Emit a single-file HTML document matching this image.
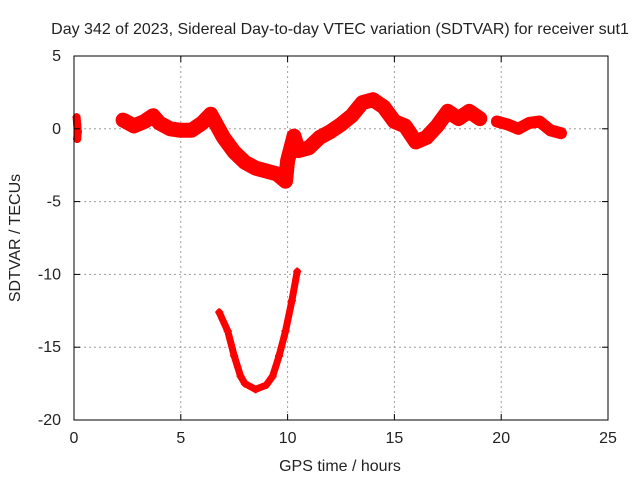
<!DOCTYPE html>
<html><head><meta charset="utf-8"><style>
body{margin:0;background:#fff}
svg text{font-family:"Liberation Sans",Arial,sans-serif;font-size:16px;fill:#222}
</style></head><body>
<svg id="chart" width="640" height="480">
<text x="340" y="34" text-anchor="middle">Day 342 of 2023, Sidereal Day-to-day VTEC variation (SDTVAR) for receiver sut1</text>
<text x="340" y="471" text-anchor="middle">GPS time / hours</text>
<text transform="translate(20,238) rotate(-90)" text-anchor="middle">SDTVAR / TECUs</text>
<g id="grid"></g><g id="marks"></g><g id="axes"></g>
</svg>
<script>
const xTicks=[0,5,10,15,20,25];
const yTicks=[5,0,-5,-10,-15,-20];
const seg1T=[0.12,0.15,0.18,0.15];
const seg1V=[0.8,0.3,-0.2,-0.7];
const seg2T=[2.3,2.8,3.3,3.7,4.0,4.5,5.0,5.5,6.0,6.4,7.0,7.5,8.0,8.5,9.0,9.5,9.9,10.0,10.3,10.5,11.0,11.5,12.0,12.5,13.0,13.5,14.0,14.5,15.0,15.5,16.0,16.5,17.0,17.5,18.0,18.5,19.0];
const seg2V=[0.6,0.2,0.5,0.9,0.4,0.0,-0.1,-0.1,0.4,1.0,-0.6,-1.6,-2.3,-2.7,-2.9,-3.1,-3.6,-2.2,-0.5,-1.5,-1.3,-0.6,-0.2,0.3,0.9,1.8,2.0,1.5,0.5,0.2,-0.9,-0.6,0.2,1.2,0.7,1.2,0.7];
const seg3T=[19.8,20.3,20.8,21.3,21.8,22.3,22.8];
const seg3V=[0.5,0.3,0.0,0.4,0.5,-0.1,-0.3];
const seg4T=[6.8,7.2,7.5,7.8,8.0,8.5,9.0,9.3,9.6,9.9,10.2,10.45];
const seg4V=[-12.6,-13.9,-15.6,-17.0,-17.5,-17.9,-17.6,-17.0,-15.6,-13.9,-11.8,-9.8];
const X0=74,X1=608,Y0=420,Y1=56;
const xs=t=>X0+(t-0)/25*(X1-X0);
const ys=v=>Y0-(v+20)/25*(Y0-Y1);
const NS="http://www.w3.org/2000/svg";
function mk(tag,attrs,parent){const e=document.createElementNS(NS,tag);for(const k in attrs)e.setAttribute(k,attrs[k]);parent.appendChild(e);return e;}
const grid=document.getElementById('grid'),axes=document.getElementById('axes'),marks=document.getElementById('marks');
xTicks.forEach(t=>{
  const x=xs(t);
  if(t>0&&t<25){const l=mk('line',{x1:x,x2:x,y1:Y1,y2:Y0,stroke:'#a0a0a0','stroke-dasharray':'2,3'},grid);
  
  }
  mk('line',{x1:x,x2:x,y1:Y0,y2:Y0-6,stroke:'#000'},axes);
  mk('line',{x1:x,x2:x,y1:Y1,y2:Y1+6,stroke:'#000'},axes);
  const tx=mk('text',{x:x,y:443,'text-anchor':'middle'},axes);tx.textContent=t;
  
  
});
yTicks.forEach(v=>{
  const y=ys(v);
  if(v>-20&&v<5){const l=mk('line',{x1:X0,x2:X1,y1:y,y2:y,stroke:'#a0a0a0','stroke-dasharray':'2,3'},grid);
  
  }
  mk('line',{x1:X0,x2:X0+6,y1:y,y2:y,stroke:'#000'},axes);
  mk('line',{x1:X1,x2:X1-6,y1:y,y2:y,stroke:'#000'},axes);
  const tx=mk('text',{x:61,y:y+5,'text-anchor':'end'},axes);tx.textContent=v;
  
  
});
const fr=mk('rect',{x:X0,y:Y1,width:X1-X0,height:Y0-Y1,fill:'none',stroke:'#000'},axes);


function drawSeg(T,V,w,name){
  const g=mk('g',{},marks);
  
  
  const d=T.map((t,i)=>(i?'L':'M')+xs(t).toFixed(1)+','+ys(V[i]).toFixed(1)).join(' ');
  mk('path',{d:d,fill:'none',stroke:'#f00','stroke-width':w,'stroke-linejoin':'round','stroke-linecap':'round'},g);
  T.forEach((t,i)=>{const x=xs(t),y=ys(V[i]);
    const p=mk('path',{d:`M${x-4},${y}h8M${x},${y-4}v8`,stroke:'#f00','stroke-width':2},g);
    
    });
}
drawSeg(seg1T,seg1V,8,'series-segment-early');
drawSeg(seg2T,seg2V,15,'series-segment-main');
drawSeg(seg3T,seg3V,12,'series-segment-late');
drawSeg(seg4T,seg4V,7,'series-segment-low');
</script>
</body></html>
